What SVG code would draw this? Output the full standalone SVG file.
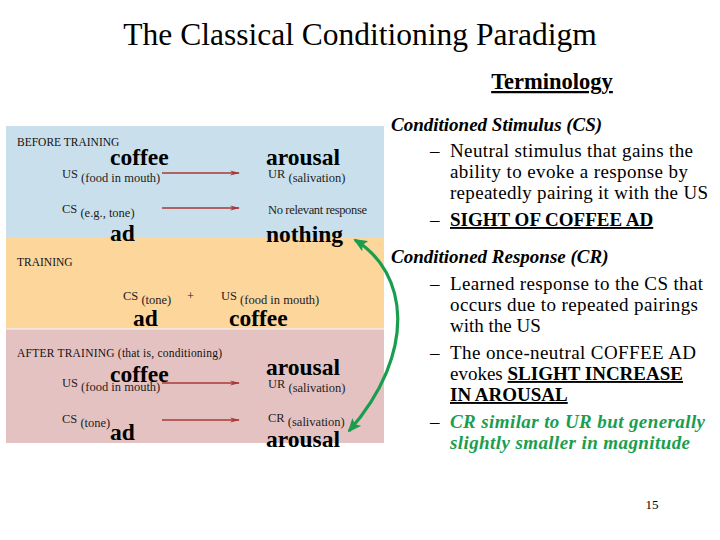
<svg xmlns="http://www.w3.org/2000/svg" width="720" height="540" viewBox="0 0 720 540">
<style>
text{font-family:'Liberation Serif',serif}
.big{font-weight:bold;font-size:23.5px;fill:#000}
.lab{font-size:12.5px;fill:#222}
.hd{font-size:11.5px;fill:#111}
.r{font-size:19px;fill:#000}
.bi{font-weight:bold;font-style:italic}
.g{fill:#1a9e4e}
.arr{stroke:#a83838;stroke-width:1.6;fill:none;marker-end:url(#ra)}
</style>
<defs>
<marker id="ra" markerWidth="10" markerHeight="6" refX="9" refY="3" orient="auto" markerUnits="userSpaceOnUse">
<path d="M0,0.5 L10,3 L0,5.5 L3,3 Z" fill="#a83838"/>
</marker>
<marker id="ga" markerWidth="14" markerHeight="12" refX="12" refY="6" orient="auto-start-reverse" markerUnits="userSpaceOnUse">
<path d="M0,0 L14,6 L0,12 L3,6 Z" fill="#1a9e4e"/>
</marker>
</defs>
<rect width="720" height="540" fill="#fff"/>
<g id="title" font-family="Liberation Serif">
<text x="360" y="45" font-size="31.5" text-anchor="middle">The Classical Conditioning Paradigm</text>
<text x="552" y="89" font-size="22.5" font-weight="bold" text-anchor="middle" text-decoration="underline">Terminology</text>
</g>

<g id="panel">
<rect x="6" y="126" width="378" height="111" fill="#c9e0ec"/>
<rect x="6" y="237" width="378" height="91" fill="#fdd69c"/>
<rect x="6" y="328" width="378" height="1.5" fill="#f4e6d8"/>
<rect x="6" y="329.5" width="378" height="113.5" fill="#e5c2c2"/>
</g>

<g id="before" font-family="Liberation Serif">
<text class="hd" x="17" y="146">BEFORE TRAINING</text>
<text class="big" x="110" y="165">coffee</text>
<text class="lab" x="62" y="178">US<tspan dy="4"> (food in mouth)</tspan></text>
<text class="big" x="266" y="165">arousal</text>
<text class="lab" x="268" y="178">UR<tspan dy="4"> (salivation)</tspan></text>
<text class="lab" x="62" y="213">CS<tspan dy="4"> (e.g., tone)</tspan></text>
<text class="lab" x="268" y="214" textLength="99">No relevant response</text>
<text class="big" x="110" y="241">ad</text>
<text class="big" x="266" y="242" textLength="77">nothing</text>
</g>

<g id="training" font-family="Liberation Serif">
<text class="hd" x="17" y="266">TRAINING</text>
<text class="lab" x="123" y="300">CS<tspan dy="4"> (tone)</tspan></text>
<text class="lab" x="187" y="300">+</text>
<text class="lab" x="221" y="300">US<tspan dy="4"> (food in mouth)</tspan></text>
<text class="big" x="133" y="326">ad</text>
<text class="big" x="229" y="326">coffee</text>
</g>

<g id="after" font-family="Liberation Serif">
<text class="hd" x="17" y="357" textLength="205">AFTER TRAINING (that is, conditioning)</text>
<text class="big" x="110" y="382">coffee</text>
<text class="lab" x="62" y="387">US<tspan dy="4"> (food in mouth)</tspan></text>
<text class="big" x="266" y="375">arousal</text>
<text class="lab" x="268" y="388">UR<tspan dy="4"> (salivation)</tspan></text>
<text class="lab" x="62" y="423">CS<tspan dy="4"> (tone)</tspan></text>
<text class="big" x="110" y="440">ad</text>
<text class="lab" x="268" y="422">CR<tspan dy="4"> (salivation)</tspan></text>
<text class="big" x="266" y="447">arousal</text>
</g>

<g id="connectors">
<line class="arr" x1="162" y1="173" x2="239" y2="173"/>
<line class="arr" x1="162" y1="208" x2="239" y2="208"/>
<line class="arr" x1="162" y1="383" x2="239" y2="383"/>
<line class="arr" x1="162" y1="420" x2="239" y2="420"/>
<path d="M355,240 C408,272 418,352 349,431" fill="none" stroke="#1a9e4e" stroke-width="3.2" marker-start="url(#ga)" marker-end="url(#ga)"/>
</g>

<g id="terms" font-family="Liberation Serif">
<text class="r bi" x="391" y="131">Conditioned Stimulus (CS)</text>
<text class="r" x="430" y="157">&#8211;</text>
<text class="r" x="450" y="157" textLength="243">Neutral stimulus that gains the</text>
<text class="r" x="450" y="178" textLength="238">ability to evoke a response by</text>
<text class="r" x="450" y="199" textLength="258">repeatedly pairing it with the US</text>
<text class="r" x="430" y="226">&#8211;</text>
<text class="r" x="450" y="226" font-weight="bold" text-decoration="underline">SIGHT OF COFFEE AD</text>
<text class="r bi" x="391" y="263">Conditioned Response (CR)</text>
<text class="r" x="430" y="290">&#8211;</text>
<text class="r" x="450" y="290" textLength="253">Learned response to the CS that</text>
<text class="r" x="450" y="311" textLength="248">occurs due to repeated pairings</text>
<text class="r" x="450" y="332">with the US</text>
<text class="r" x="430" y="359">&#8211;</text>
<text class="r" x="450" y="359" textLength="246">The once-neutral COFFEE AD</text>
<text class="r" x="450" y="380">evokes <tspan font-weight="bold" text-decoration="underline">SLIGHT INCREASE</tspan></text>
<text class="r" x="450" y="401" font-weight="bold" text-decoration="underline">IN AROUSAL</text>
<text class="r" x="430" y="428">&#8211;</text>
<text class="r bi g" x="450" y="428" textLength="255">CR similar to UR but generally</text>
<text class="r bi g" x="450" y="449" textLength="240">slightly smaller in magnitude</text>
<text x="652" y="509" font-size="13" text-anchor="middle">15</text>
</g>
</svg>
